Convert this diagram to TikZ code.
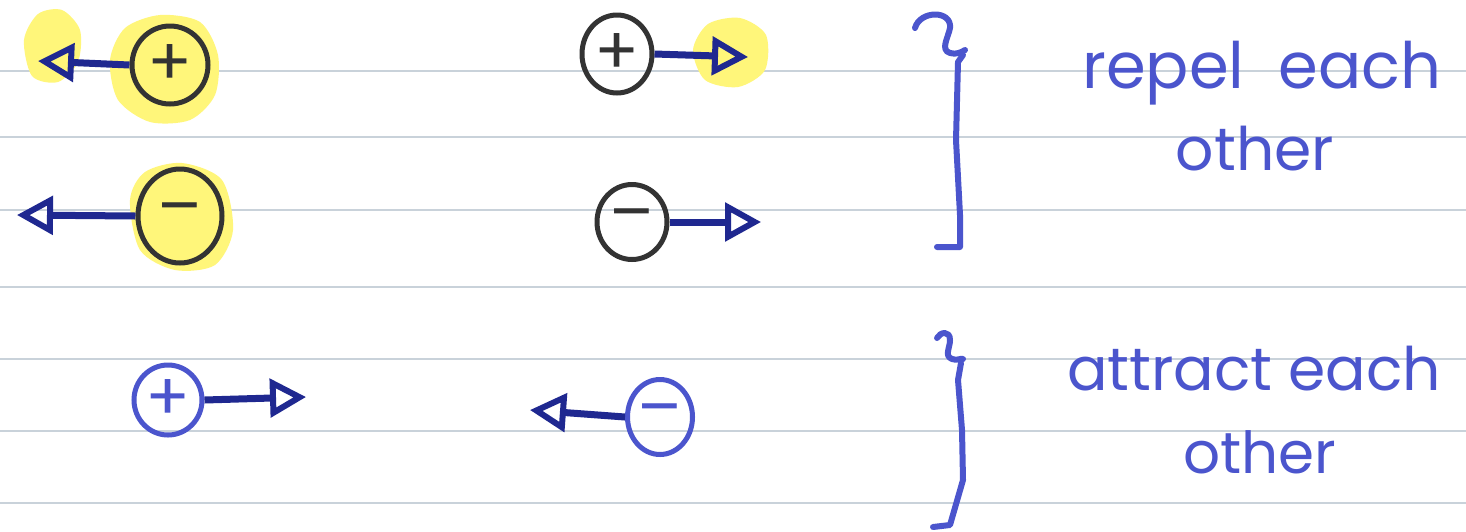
\documentclass[tikz,border=0pt]{standalone}
\usepackage{fontspec}
\usetikzlibrary{arrows.meta,shapes.geometric}
\newfontfamily\handfont{Poppins}
\definecolor{ink}{HTML}{4B55CD}
\definecolor{navy}{HTML}{1F2890}
\definecolor{pencil}{HTML}{333333}
\definecolor{hilite}{HTML}{FFF67A}
\definecolor{ruleline}{HTML}{C9D2DA}
\begin{document}
\begin{tikzpicture}[x=1pt,y=-1pt,
  chg/.style={ellipse, draw, line width=5pt, inner sep=0pt, font=\handfont\fontsize{66}{66}\selectfont},
  blk/.style={chg, draw=pencil, text=pencil},
  blu/.style={chg, draw=ink, text=ink},
  force/.style={draw=navy, line width=7pt, -{Triangle[open,length=36pt,width=38pt,line width=6pt]}},
  brace/.style={draw=ink, line width=6pt, line cap=round, line join=round},
  words/.style={text=ink, inner sep=0pt, font=\handfont\fontsize{#1}{#1}\selectfont},
  glow/.style={fill=hilite}
]
\useasboundingbox (0,0) rectangle (1466,531);
\fill[white] (0,0) rectangle (1466,531);
% ruled paper
\foreach \yy in {71,137,210,287,359,431,503}
  \draw[ruleline, line width=1.5pt] (0,\yy) -- (1466,\yy);
% highlights
\fill[glow] plot[smooth cycle] coordinates {(110,60) (125,28) (160,15) (200,22) (218,55) (215,95) (190,120) (150,122) (118,100)};
\fill[glow] plot[smooth cycle] coordinates {(24,40) (38,14) (62,10) (80,30) (78,62) (58,82) (32,76)};
\fill[glow] plot[smooth cycle] coordinates {(130,200) (145,172) (182,163) (222,180) (233,230) (215,265) (175,270) (140,250)};
\fill[glow] plot[smooth cycle] coordinates {(693,50) (708,24) (740,18) (766,35) (765,70) (738,87) (705,80)};
% charges
\node[blk, minimum width=76pt, minimum height=78pt] (pA) at (170,65) {+};
\node[blk, minimum width=84pt, minimum height=94pt] (mB) at (180,216) {–};
\node[blk, minimum width=70pt, minimum height=78pt] (pC) at (617,54) {+};
\node[blk, minimum width=70pt, minimum height=75pt] (mD) at (632,222) {–};
\node[blu, minimum width=68pt, minimum height=70pt] (pE) at (168,400) {+};
\node[blu, minimum width=65pt, minimum height=75pt] (mF) at (660,417) {–};
% arrow tips
\coordinate (tA) at (38,61);
\coordinate (tB) at (17,215);
\coordinate (tC) at (748,57);
\coordinate (tD) at (761,222);
\coordinate (tE) at (306,397);
\coordinate (tF) at (530,410);
\draw[force] (pA.west) -- (tA);
\draw[force] (mB.west) -- (tB);
\draw[force] (pC.east) -- (tC);
\draw[force] (mD.east) -- (tD);
\draw[force] (pE.east) -- (tE);
\draw[force] (mF.west) -- (tF);
% brackets
\draw[brace] (915,28) .. controls (920,10) and (952,10) .. (950,28)
  .. controls (948,38) and (940,50) .. (950,53) .. controls (956,55) and (962,52) .. (965,50);
\draw[brace] (963,55) -- (958,62) -- (956,140) -- (960,215) -- (960,247) -- (937,247);
\draw[brace] (937,338) .. controls (940,332) and (950,330) .. (950,340)
  .. controls (950,348) and (944,356) .. (952,359) .. controls (957,361) and (961,358) .. (963,359);
\draw[brace] (961,363) -- (958,380) -- (962,430) -- (963,480) -- (950,525) -- (933,527);
% labels
\node[words=64, anchor=base west] (rep) at (1082,88) {repel\hspace{34pt}each};
\node[words=60, anchor=base] (oth1) at (1255,170) {other};
\node[words=60, anchor=base west] (att) at (1067,390) {attract each};
\node[words=58, anchor=base] (oth2) at (1260,473) {other};
\end{tikzpicture}
\end{document}
